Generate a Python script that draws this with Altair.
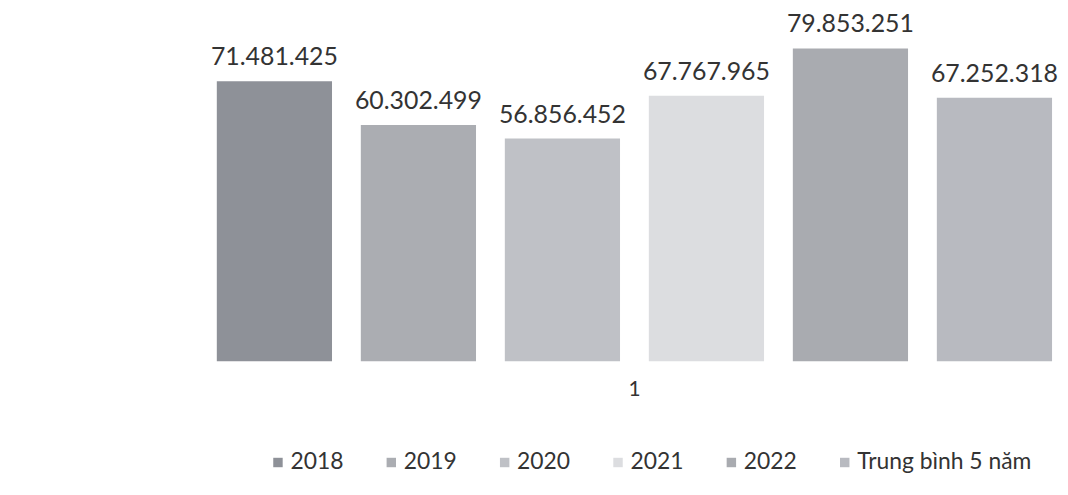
import altair as alt
import pandas as pd

categories = ["1"]
series = ["2018", "2019", "2020", "2021", "2022", "Trung bình 5 năm"]
values = [71481425, 60302499, 56856452, 67767965, 79853251, 67252318]
colors = ["#8e9198", "#abadb2", "#bfc1c6", "#dcdde0", "#a9abb0", "#b8bac0"]

labels = [f"{v:,}".replace(",", ".") for v in values]
df = pd.DataFrame({
    "cat": categories * len(series),
    "series": series,
    "value": values,
    "label": labels,
})

FONT = "Lato"
TXT = "#333333"

base = alt.Chart(df).encode(
    x=alt.X(
        "cat:N",
        title=None,
        scale=alt.Scale(paddingInner=0, paddingOuter=0),
        axis=alt.Axis(labelAngle=0, domain=False, ticks=False, labelFontSize=21,
                      labelFont=FONT, labelColor=TXT, labelPadding=17, labelFontWeight="normal"),
    ),
    xOffset=alt.XOffset("series:N", sort=series,
                        scale=alt.Scale(paddingInner=0.2, paddingOuter=0)),
    y=alt.Y("value:Q", scale=alt.Scale(domain=[0, 85000000], nice=False), axis=None),
)

bars = base.mark_bar().encode(
    color=alt.Color(
        "series:N",
        sort=series,
        scale=alt.Scale(domain=series, range=colors),
        legend=alt.Legend(
            title=None, orient="none", direction="horizontal", legendX=50, legendY=425,
            symbolType="square", symbolSize=90, symbolStrokeWidth=0,
            labelFont=FONT, labelFontSize=23, labelColor=TXT, labelLimit=400,
            labelOffset=1, columnPadding=36, padding=0,
        ),
    )
)

text = base.mark_text(baseline="alphabetic", dy=-16, fontSize=25, font=FONT, color=TXT).encode(
    text="label:N"
)

chart = (
    alt.layer(bars, text)
    .properties(
        width=840, height=335, autosize=alt.AutoSizeParams(type="none"),
        padding={"left": 210, "top": 19, "right": 8, "bottom": 117},
        background="white",
    )
    .configure_view(stroke=None)
)

chart.save("out.html", embed_options={"renderer": "svg", "actions": False})
